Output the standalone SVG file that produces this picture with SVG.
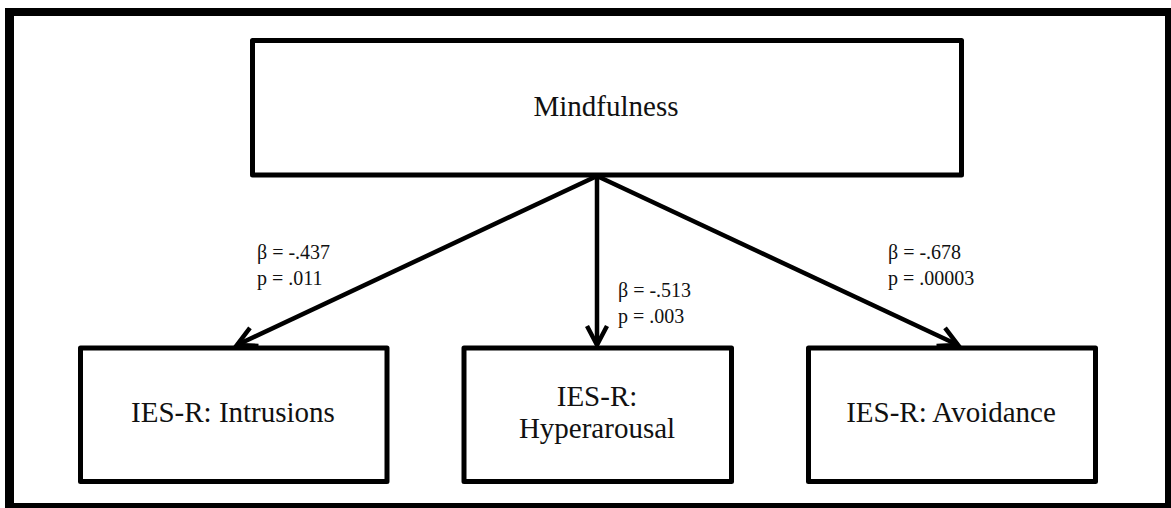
<svg xmlns="http://www.w3.org/2000/svg" width="1171" height="508" viewBox="0 0 1171 508">
<style>
.box{fill:#fff;stroke:#000;stroke-width:5;stroke-linejoin:round}
.lbl{font-family:"Liberation Serif","Times New Roman",serif;font-size:29px;fill:#111;text-anchor:middle}
.stat{font-family:"Liberation Serif","Times New Roman",serif;font-size:20px;fill:#111}
.conn{stroke:#000;stroke-width:4.5;fill:none}
</style>
<defs>
<marker id="arr" markerUnits="userSpaceOnUse" markerWidth="30" markerHeight="30" viewBox="-24 -15 30 30" refX="0" refY="0" orient="auto">
<path d="M-19,-10 L0,0 L-19,10" fill="none" stroke="#000" stroke-width="4.5" stroke-linejoin="miter"/>
</marker>
</defs>
<rect x="0" y="0" width="1171" height="508" fill="#fff"/>
<path d="M5,8 H1171 V508 H5 Z M14,16 V503 H1165 V16 Z" fill="#000" fill-rule="evenodd"/>
<g id="connectors">
<line class="conn" x1="597" y1="176" x2="237" y2="345" marker-end="url(#arr)"/>
<line class="conn" x1="597" y1="176" x2="597" y2="345" marker-end="url(#arr)"/>
<line class="conn" x1="597" y1="176" x2="958" y2="345" marker-end="url(#arr)"/>
<text class="stat" x="257" y="259">β = -.437</text>
<text class="stat" x="257" y="285">p = .011</text>
<text class="stat" x="618" y="297">β = -.513</text>
<text class="stat" x="618" y="323">p = .003</text>
<text class="stat" x="888" y="259">β = -.678</text>
<text class="stat" x="888" y="285">p = .00003</text>
</g>
<g id="mindfulness">
<rect class="box" x="252.5" y="40.5" width="709" height="134.5"/>
<text class="lbl" x="606" y="116">Mindfulness</text>
</g>
<g id="intrusions">
<rect class="box" x="80.5" y="348" width="306.5" height="133.5"/>
<text class="lbl" x="233" y="422">IES-R: Intrusions</text>
</g>
<g id="hyperarousal">
<rect class="box" x="464" y="348" width="267.5" height="133.5"/>
<text class="lbl" x="597" y="406">IES-R:</text>
<text class="lbl" x="597" y="438">Hyperarousal</text>
</g>
<g id="avoidance">
<rect class="box" x="808.5" y="348" width="287" height="133.5"/>
<text class="lbl" x="951" y="422">IES-R: Avoidance</text>
</g>
</svg>
